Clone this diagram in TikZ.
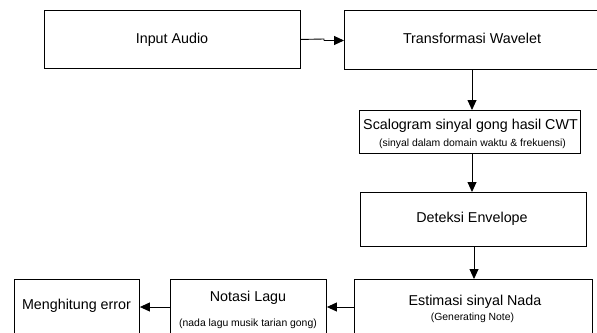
\documentclass[tikz,border=0pt]{standalone}
\usepackage{fontspec}
\setmainfont{Liberation Sans}
\usetikzlibrary{arrows.meta}
\begin{document}
\begin{tikzpicture}[x=1pt,y=-1pt,
  box/.style={draw,line width=0.9pt,inner sep=0pt,anchor=north west},
  big/.style={font=\fontsize{14.3}{16}\selectfont,inner sep=0pt,anchor=base},
  small/.style={font=\fontsize{10.4}{12}\selectfont,inner sep=0pt,anchor=base},
  arr/.style={line width=0.9pt,-{Triangle[length=10pt,width=9pt]}}]
\useasboundingbox (0,0) rectangle (597,332);
% boxes
\node[box,minimum width=256pt,minimum height=58pt] (inp) at (44,10) {};
\node[box,minimum width=256pt,minimum height=59pt] (tw) at (344,10) {};
\node[box,minimum width=221pt,minimum height=43pt] (sc) at (359,110) {};
\node[box,minimum width=226pt,minimum height=54pt] (de) at (360,192) {};
\node[box,minimum width=238pt,minimum height=60pt] (es) at (354,279) {};
\node[box,minimum width=156pt,minimum height=60pt] (no) at (170,279) {};
\node[box,minimum width=125pt,minimum height=60pt] (me) at (14,279) {};
% texts
\node[big] (tinp) at (172,43.5) {Input Audio};
\node[big] (ttw) at (472,43.5) {Transformasi Wavelet};
\node[big] (tsc1) at (470.5,129) {Scalogram sinyal gong hasil CWT};
\node[small] (tsc2) at (472.5,146) {(sinyal dalam domain waktu \& frekuensi)};
\node[big] (tde) at (472,222.5) {Deteksi Envelope};
\node[big] (tes1) at (475,305.3) {Estimasi sinyal Nada};
\node[small] (tes2) at (472.5,320) {(Generating Note)};
\node[big] (tno1) at (248,301) {Notasi Lagu};
\node[small] (tno2) at (248,326.5) {(nada lagu musik tarian gong)};
\node[big] (tme) at (76.5,309) {Menghitung error};
% connectors
\coordinate (j1) at (324,39);
\coordinate (j2) at (324,40.5);
\draw[line width=0.9pt] (inp.east) -- (j1) -- (j2);
\draw[arr] (j2) -- (tw.west |- j2);
\draw[arr] (tw.south -| 472,0) -- (sc.north -| 472,0);
\draw[arr] (sc.south -| 472,0) -- (de.north -| 472,0);
\draw[arr] (de.south -| 474,0) -- (es.north -| 474,0);
\draw[arr] (es.west |- 0,307) -- (no.east |- 0,307);
\draw[arr] (no.west |- 0,307) -- (me.east |- 0,307);
\end{tikzpicture}
\end{document}
